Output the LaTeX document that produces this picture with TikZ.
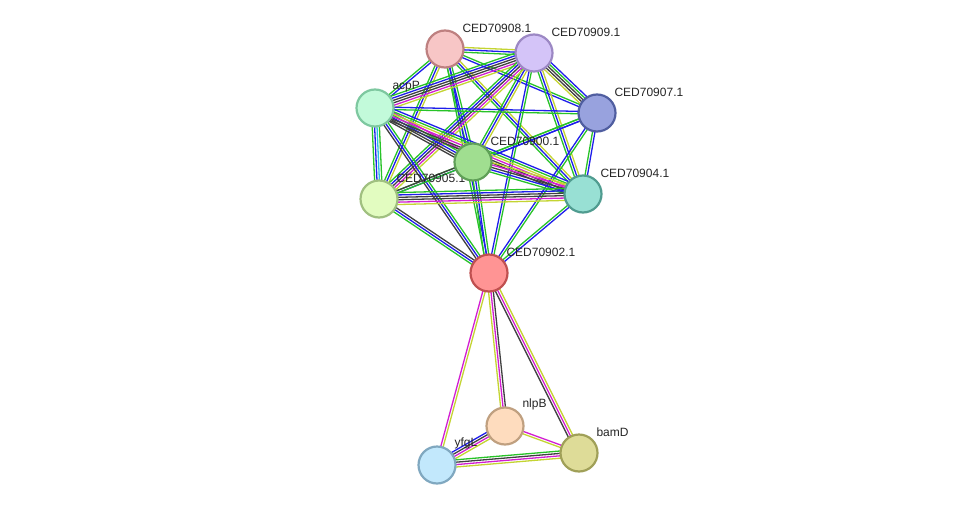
\documentclass[tikz,border=0pt]{standalone}
\usepackage{fontspec}
\setmainfont{Liberation Sans}
\usetikzlibrary{calc,backgrounds}

\definecolor{lgreen}{RGB}{40,195,40}
\definecolor{lblue}{RGB}{30,30,235}
\definecolor{lblack}{RGB}{64,64,64}
\definecolor{lmag}{RGB}{210,30,210}
\definecolor{lyel}{RGB}{196,212,50}
\definecolor{lcyan}{RGB}{40,190,225}

\definecolor{f908}{RGB}{247,198,198}\definecolor{d908}{RGB}{190,128,128}
\definecolor{f909}{RGB}{212,196,248}\definecolor{d909}{RGB}{156,136,196}
\definecolor{f907}{RGB}{152,162,222}\definecolor{d907}{RGB}{80,94,160}
\definecolor{facpP}{RGB}{194,250,218}\definecolor{dacpP}{RGB}{126,200,160}
\definecolor{f905}{RGB}{226,252,192}\definecolor{d905}{RGB}{160,192,128}
\definecolor{f900}{RGB}{160,222,144}\definecolor{d900}{RGB}{96,160,88}
\definecolor{f904}{RGB}{152,224,212}\definecolor{d904}{RGB}{80,156,144}
\definecolor{f902}{RGB}{255,148,148}\definecolor{d902}{RGB}{192,80,80}
\definecolor{fnlpB}{RGB}{254,220,190}\definecolor{dnlpB}{RGB}{192,160,128}
\definecolor{fyfgL}{RGB}{194,232,252}\definecolor{dyfgL}{RGB}{128,168,192}
\definecolor{fbamD}{RGB}{222,220,152}\definecolor{dbamD}{RGB}{160,160,88}

\newcommand{\ppilink}[3]{%
  \foreach \col [count=\k] in {#3} {\xdef\nlines{\k}}%
  \foreach \col [count=\k] in {#3} {%
    \pgfmathsetmacro{\off}{(\k-(\nlines+1)/2)*2.4}%
    \draw[\col] ($(#1)!\off pt!90:(#2)$) -- ($(#2)!\off pt!-90:(#1)$);
  }%
}

\tikzset{
  prot/.style={circle,minimum size=37pt,inner sep=0pt,line width=2.2pt,fill=f#1,draw=d#1},
  lbl/.style={font=\fontsize{12}{14}\selectfont,text=black!85,inner sep=2pt,xshift=1.5pt}
}

\begin{document}
\begin{tikzpicture}[x=1pt,y=-1pt]
  \useasboundingbox (0,0) rectangle (976,511);

  \node[prot=908,label={[lbl]45:CED70908.1}] (c908) at (445,49) {};
  \node[prot=909,label={[lbl]45:CED70909.1}] (c909) at (534,53) {};
  \node[prot=907,label={[lbl]45:CED70907.1}] (c907) at (597,113) {};
  \node[prot=acpP,label={[lbl]45:acpP}] (acpP) at (375,108) {};
  \node[prot=905,label={[lbl]45:CED70905.1}] (c905) at (379,199) {};
  \node[prot=900,label={[lbl]45:CED70900.1}] (c900) at (473,162) {};
  \node[prot=904,label={[lbl]45:CED70904.1}] (c904) at (583,194) {};
  \node[prot=902,label={[lbl]45:CED70902.1}] (c902) at (489,273) {};
  \node[prot=nlpB,label={[lbl]45:nlpB}] (nlpB) at (505,426) {};
  \node[prot=yfgL,label={[lbl]45:yfgL}] (yfgL) at (437,465) {};
  \node[prot=bamD,label={[lbl]45:bamD}] (bamD) at (579,453) {};

  \begin{scope}[on background layer={line width=1.3pt}]
    \fill[white] (0,0) rectangle (976,511);
    \ppilink{c908}{c909}{lgreen,lblue,lyel}
    \ppilink{c908}{acpP}{lgreen,lblue}
    \ppilink{c908}{c907}{lblue,lgreen}
    \ppilink{c908}{c900}{lgreen,lblue,lgreen}
    \ppilink{c908}{c905}{lgreen,lblue,lyel}
    \ppilink{c908}{c904}{lgreen,lblue,lyel}
    \ppilink{c908}{c902}{lgreen,lblue}
    \ppilink{c909}{acpP}{lgreen,lblue,lblack,lblack,lmag,lyel}
    \ppilink{c909}{c907}{lyel,lblack,lblack,lgreen,lblue}
    \ppilink{c909}{c900}{lgreen,lblue,lyel}
    \ppilink{c909}{c905}{lgreen,lblue,lblack,lmag,lyel}
    \ppilink{c909}{c904}{lgreen,lblue,lyel}
    \ppilink{c909}{c902}{lblue,lgreen}
    \ppilink{c907}{acpP}{lblue,lgreen}
    \ppilink{c907}{c900}{lgreen,lblue}
    \ppilink{c907}{c905}{lgreen,lblue}
    \ppilink{c907}{c904}{lgreen,lblue}
    \ppilink{c907}{c902}{lblue,lgreen}
    \ppilink{acpP}{c900}{lblack,lblack,lblue,lgreen,lmag}
    \ppilink{acpP}{c905}{lgreen,lblue,lcyan,lgreen}
    \ppilink{acpP}{c904}{lblack,lblack,lmag,lyel,lgreen,lblue}
    \ppilink{acpP}{c902}{lblack,lblue,lgreen}
    \ppilink{c900}{c905}{lblack,lgreen}
    \ppilink{c900}{c904}{lgreen,lblue,lblack,lmag,lyel}
    \ppilink{c900}{c902}{lgreen,lblue,lgreen}
    \ppilink{c905}{c904}{lyel,lmag,lblack,lblack,lblue,lgreen}
    \ppilink{c905}{c902}{lgreen,lblue,lblack}
    \ppilink{c904}{c902}{lgreen,lblue}
    \ppilink{c902}{nlpB}{lyel,lmag,lblack}
    \ppilink{c902}{yfgL}{lmag,lyel}
    \ppilink{c902}{bamD}{lblack,lmag,lyel}
    \ppilink{nlpB}{yfgL}{lblue,lblack,lmag,lyel}
    \ppilink{nlpB}{bamD}{lyel,lmag}
    \ppilink{yfgL}{bamD}{lyel,lmag,lblack,lgreen}
  \end{scope}
\end{tikzpicture}
\end{document}
